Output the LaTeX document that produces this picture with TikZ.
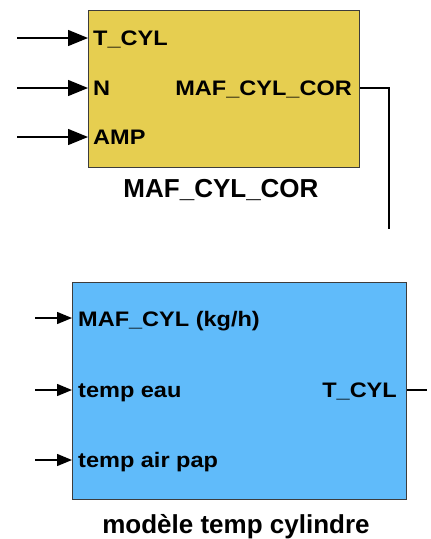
\documentclass[tikz,border=0pt]{standalone}
\usepackage{fontspec}
\setmainfont{Liberation Sans}
\newfontfamily\portfont[FakeStretch=1.12]{Liberation Sans}
\usetikzlibrary{arrows.meta}
\definecolor{blkyellow}{RGB}{230,206,80}
\definecolor{blkblue}{RGB}{96,187,250}
\definecolor{blkedge}{RGB}{60,60,60}
\tikzset{
  block/.style={draw=blkedge, line width=1.4pt, inner sep=0pt, anchor=north west},
  inport/.style={inner sep=0pt, anchor=base west, font=\portfont\bfseries\fontsize{21}{25}\selectfont},
  outport/.style={inner sep=0pt, anchor=base east, font=\portfont\bfseries\fontsize{21}{25}\selectfont},
  blocklabel/.style={inner sep=0pt, anchor=base, font=\bfseries\fontsize{26}{30}\selectfont},
  sigbig/.style={line width=1.4pt, -{Triangle[length=20pt,width=16pt]}},
  sigsmall/.style={line width=1.4pt, -{Triangle[length=15pt,width=12pt]}},
  wire/.style={line width=1.4pt}
}
\begin{document}
\begin{tikzpicture}[x=1pt,y=-1pt]
\useasboundingbox (0,0) rectangle (431,539);
% top block
\node[block, fill=blkyellow, minimum width=271pt, minimum height=157pt] (top) at (88,10) {};
\node[inport] (tTcyl) at (93,45) {T\_CYL};
\node[inport] (tN) at (93,95) {N};
\node[inport] (tAMP) at (93,144) {AMP};
\node[outport] (tOut) at (352,95) {MAF\_CYL\_COR};
\node[blocklabel] (tLabel) at (221,197) {MAF\_CYL\_COR};
\coordinate (i1) at (17,38);
\coordinate (i2) at (17,88);
\coordinate (i3) at (17,137);
\draw[sigbig] (i1) -- (i1 -| top.west);
\draw[sigbig] (i2) -- (i2 -| top.west);
\draw[sigbig] (i3) -- (i3 -| top.west);
\coordinate (o1) at (389,88);
\coordinate (o1end) at (389,229);
\draw[wire] (o1 -| top.east) -- (o1) -- (o1end);
% bottom block
\node[block, fill=blkblue, minimum width=334pt, minimum height=217pt] (bot) at (72,282) {};
\node[inport] (bMaf) at (78,326) {MAF\_CYL (kg/h)};
\node[inport] (bEau) at (78,397) {temp eau};
\node[inport] (bAir) at (78,467) {temp air pap};
\node[outport] (bOut) at (397,397) {T\_CYL};
\node[blocklabel] (bLabel) at (236,533) {modèle temp cylindre};
\coordinate (j1) at (35,318);
\coordinate (j2) at (35,390);
\coordinate (j3) at (35,460);
\draw[sigsmall] (j1) -- (j1 -| bot.west);
\draw[sigsmall] (j2) -- (j2 -| bot.west);
\draw[sigsmall] (j3) -- (j3 -| bot.west);
\coordinate (p1) at (427,390);
\draw[wire] (p1 -| bot.east) -- (p1);
\end{tikzpicture}
\end{document}
